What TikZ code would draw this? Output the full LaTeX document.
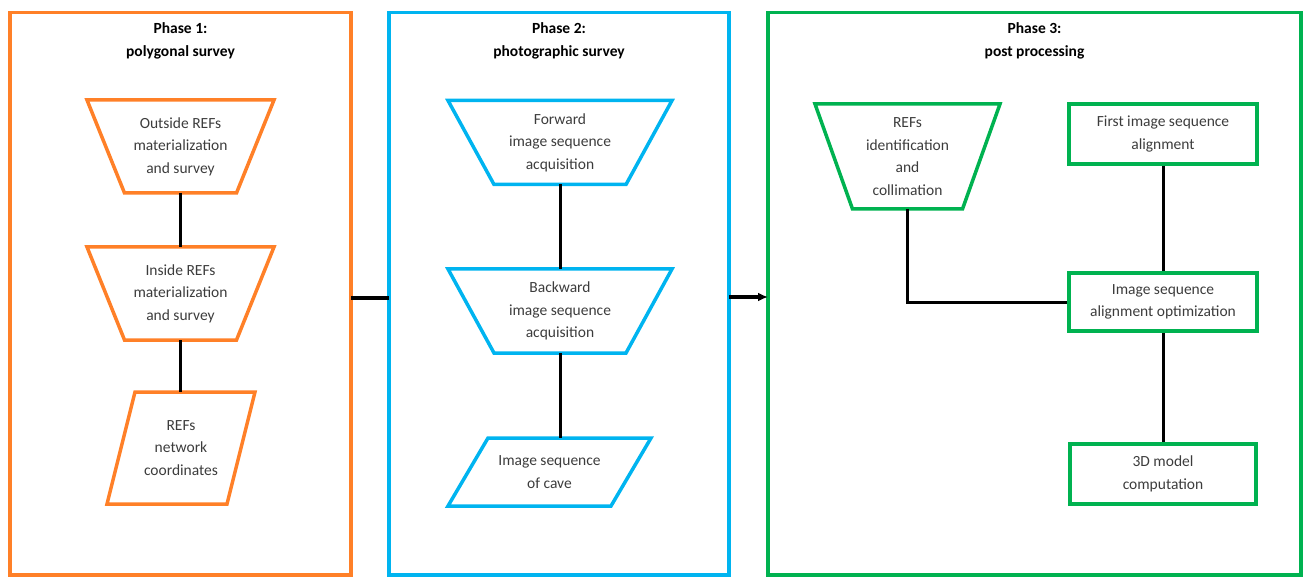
\documentclass[tikz,border=0pt]{standalone}
\usepackage{fontspec}
\setmainfont{Carlito}
\usetikzlibrary{arrows.meta}
\definecolor{corange}{RGB}{255,128,40}
\definecolor{cblue}{RGB}{0,180,240}
\definecolor{cgreen}{RGB}{0,178,80}
\definecolor{ctext}{RGB}{60,60,60}
\tikzset{
  phasebox/.style={draw=#1, line width=3.2pt, inner sep=0pt, outer sep=0pt},
  frame/.style={draw=none, inner sep=0pt, outer sep=0pt, align=center, text=ctext,
    font=\fontsize{15.5}{22.5}\selectfont},
  rbox/.style={draw=cgreen, line width=3.5pt, inner sep=0pt, align=center, text=ctext,
    font=\fontsize{15.5}{22.5}\selectfont},
  outl/.style={draw=#1, line width=3.5pt, line join=miter},
  title/.style={align=center, font=\bfseries\fontsize{15.5}{23}\selectfont, text=black},
  conn/.style={draw=black, line width=3pt},
}
\begin{document}
\begin{tikzpicture}[x=1pt, y=-1pt]
\useasboundingbox (0,0) rectangle (1306,577);

% phase boxes
\node[phasebox=corange, minimum width=341pt, minimum height=562.5pt] (p1) at (180.5,293.75) {};
\node[phasebox=cblue, minimum width=340pt, minimum height=562.5pt] (p2) at (559,293.75) {};
\node[phasebox=cgreen, minimum width=533pt, minimum height=562.5pt] (p3) at (1034.5,293.75) {};

% titles
\node[title] (h1) at (180.5,40.5) {Phase 1:\\polygonal survey};
\node[title] (h2) at (559,40.5) {Phase 2:\\photographic survey};
\node[title] (h3) at (1034.5,40.5) {Phase 3:\\post processing};

% phase 1
\node[frame, minimum width=187pt, minimum height=93pt] (t1) at (180.5,146.5) {Outside REFs\\materialization\\and survey};
\draw[outl=corange] (t1.north west) -- (t1.north east) -- ([xshift=-37.5pt]t1.south east) -- ([xshift=37.5pt]t1.south west) -- cycle;
\node[frame, minimum width=187pt, minimum height=93pt] (t2) at (180.5,293.5) {Inside REFs\\materialization\\and survey};
\draw[outl=corange] (t2.north west) -- (t2.north east) -- ([xshift=-37.5pt]t2.south east) -- ([xshift=37.5pt]t2.south west) -- cycle;
\node[frame, minimum width=148pt, minimum height=112pt] (q1) at (181,448) {REFs\\network\\coordinates};
\draw[outl=corange] ([xshift=28pt]q1.north west) -- (q1.north east) -- ([xshift=-28pt]q1.south east) -- (q1.south west) -- cycle;

% phase 2
\node[frame, minimum width=224pt, minimum height=84pt] (fw) at (560,142.5) {Forward\\image sequence\\acquisition};
\draw[outl=cblue] (fw.north west) -- (fw.north east) -- ([xshift=-46pt]fw.south east) -- ([xshift=46pt]fw.south west) -- cycle;
\node[frame, minimum width=224pt, minimum height=84pt] (bw) at (560,311) {Backward\\image sequence\\acquisition};
\draw[outl=cblue] (bw.north west) -- (bw.north east) -- ([xshift=-46pt]bw.south east) -- ([xshift=46pt]bw.south west) -- cycle;
\node[frame, minimum width=203pt, minimum height=68pt] (q2) at (549.5,472) {Image sequence\\of cave};
\draw[outl=cblue] ([xshift=40pt]q2.north west) -- (q2.north east) -- ([xshift=-40pt]q2.south east) -- (q2.south west) -- cycle;

% phase 3
\node[frame, minimum width=185pt, minimum height=105pt] (rf) at (907.5,156.5) {REFs\\identification\\and\\collimation};
\draw[outl=cgreen] (rf.north west) -- (rf.north east) -- ([xshift=-37.5pt]rf.south east) -- ([xshift=37.5pt]rf.south west) -- cycle;
\node[rbox, minimum width=188pt, minimum height=60pt] (r1) at (1163,134) {First image sequence\\alignment};
\node[rbox, minimum width=188pt, minimum height=58pt] (r2) at (1163,302) {Image sequence\\alignment optimization};
\node[rbox, minimum width=186pt, minimum height=60pt] (r3) at (1163,474) {3D model\\computation};

% connectors
\draw[conn] (t1.south) -- (t2.north);
\draw[conn] (t2.south) -- (t2.south |- q1.north);
\draw[conn] (fw.south) -- (bw.north);
\draw[conn] (bw.south) -- (bw.south |- q2.north);
\draw[conn] (rf.south) |- (r2.west);
\draw[conn] (r1.south) -- (r2.north);
\draw[conn] (r2.south) -- (r3.north);

\coordinate (m1) at (0,298);
\coordinate (m2) at (0,297);
\draw[conn] (p1.east |- m1) -- (p2.west |- m1);
\draw[conn, -{Latex[length=10pt,width=9pt]}] (p2.east |- m2) -- (p3.west |- m2);
\end{tikzpicture}
\end{document}
